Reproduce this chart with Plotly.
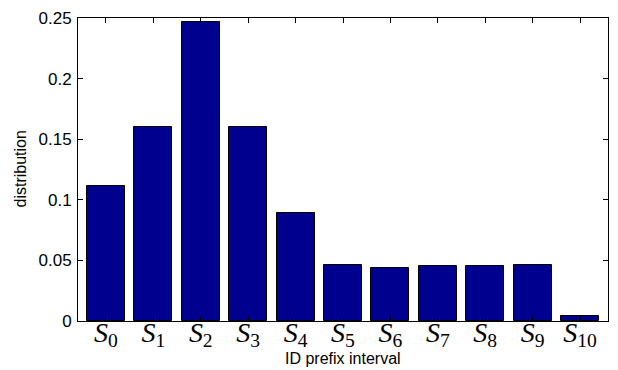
import plotly.graph_objects as go

# Share of IDs falling in each prefix interval S_0 .. S_10
intervals = [f"S{i}" for i in range(11)]
tick_labels = [f"<i>S</i><sub>{i}</sub>" for i in range(11)]
distribution = [0.111, 0.160, 0.247, 0.160, 0.089, 0.046, 0.044, 0.045, 0.045, 0.046, 0.004]
y_ticks = [0, 0.05, 0.1, 0.15, 0.2, 0.25]
y_tick_text = ["0", "0.05", "0.1", "0.15", "0.2", "0.25"]

positions = list(range(1, len(intervals) + 1))

fig = go.Figure(
    go.Bar(
        x=positions,
        y=distribution,
        width=0.8,
        marker=dict(color="#00008F", line=dict(color="#000000", width=1)),
        hoverinfo="y",
    )
)

axis_common = dict(
    showline=True,
    linecolor="black",
    linewidth=1,
    mirror="ticks",
    ticks="inside",
    ticklen=5,
    tickcolor="black",
    showgrid=False,
    zeroline=False,
)

fig.update_xaxes(
    range=[0.41, 11.59],
    tickvals=positions,
    ticktext=tick_labels,
    tickfont=dict(family="Liberation Serif", size=28, color="black"),
    ticklabelstandoff=-14,
    **axis_common,
)
fig.update_yaxes(
    range=[0, 0.25],
    tickvals=y_ticks,
    ticktext=y_tick_text,
    tickfont=dict(family="Liberation Sans", size=17, color="black"),
    ticklabelstandoff=2,
    **axis_common,
)

fig.add_annotation(
    text="ID prefix interval",
    xref="paper", yref="paper", x=0.5, y=0, yshift=-37,
    showarrow=False, xanchor="center", yanchor="middle",
    font=dict(family="Liberation Sans", size=16, color="black"),
)
fig.add_annotation(
    text="distribution",
    xref="paper", yref="paper", x=0, y=0.5, xshift=-58,
    textangle=-90, showarrow=False, xanchor="center", yanchor="middle",
    font=dict(family="Liberation Sans", size=16, color="black"),
)

fig.update_layout(
    width=618,
    height=370,
    margin=dict(l=78, r=9, t=10, b=49),
    paper_bgcolor="white",
    plot_bgcolor="white",
    showlegend=False,
    bargap=0,
)

fig.write_html("out.html")
